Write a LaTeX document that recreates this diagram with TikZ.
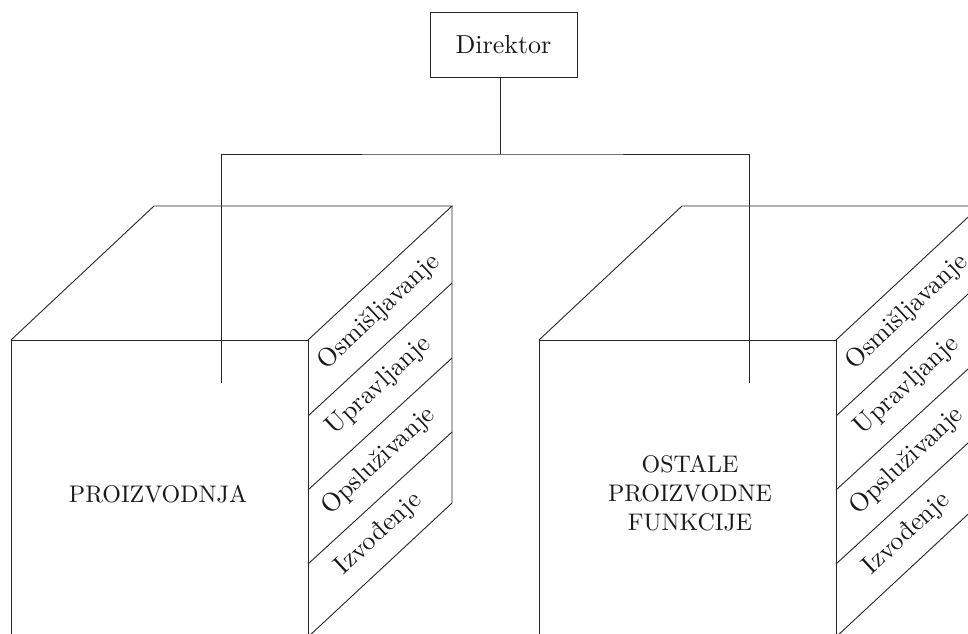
\documentclass[tikz,border=0pt]{standalone}
\usepackage{fontspec}
\setmainfont{lmroman10-regular.otf}
\begin{document}
\begin{tikzpicture}[x=1pt,y=-1pt,
  edge/.style={draw=black!85,line width=0.9pt},
  lbl/.style={font=\fontsize{24}{29}\selectfont,text=black!90,inner sep=0pt,align=center},
  side/.style={lbl,font=\fontsize{26}{29}\selectfont,rotate=43},
  boss/.style={draw=black!85,line width=0.9pt,minimum width=147pt,minimum height=65pt,inner sep=0pt,font=\fontsize{26}{29}\selectfont,text=black!90}]
\useasboundingbox (0,0) rectangle (968,633);
\clip (0,0) rectangle (968,633);
% director
\node[boss] (dir) at (503.5,44.5) {Direktor};
% cubes
\foreach \o/\nm in {0/a,528/b}{
  \begin{scope}[xshift=\o]
    \draw[edge] (11,640) -- (11,340) -- (308,340) -- (308,640);
    \draw[edge] (11,340) -- (154,206) -- (452,206) -- (308,340);
    \draw[edge] (452,206) -- (452,503) -- (308,637);
    \draw[edge] (308,416) -- (452,283);
    \draw[edge] (308,490) -- (452,358);
    \draw[edge] (308,564) -- (452,432);
    \node[side] (\nm1) at (379,312) {Osmišljavanje};
    \node[side] (\nm2) at (379,386) {Upravljanje};
    \node[side] (\nm3) at (379,461) {Opsluživanje};
    \node[side] (\nm4) at (379,534) {Izvođenje};
  \end{scope}
}
\node[lbl] (pro) at (158,494) {PROIZVODNJA};
\node[lbl] (ost) at (690,493) {OSTALE\\PROIZVODNE\\FUNKCIJE};
% connectors
\coordinate (j) at (500,154);
\coordinate (p1) at (221,383);
\coordinate (p2) at (749,383);
\draw[edge] (j |- dir.south) -- (j);
\draw[edge] (p1) |- (j) -| (p2);
\end{tikzpicture}
\end{document}
